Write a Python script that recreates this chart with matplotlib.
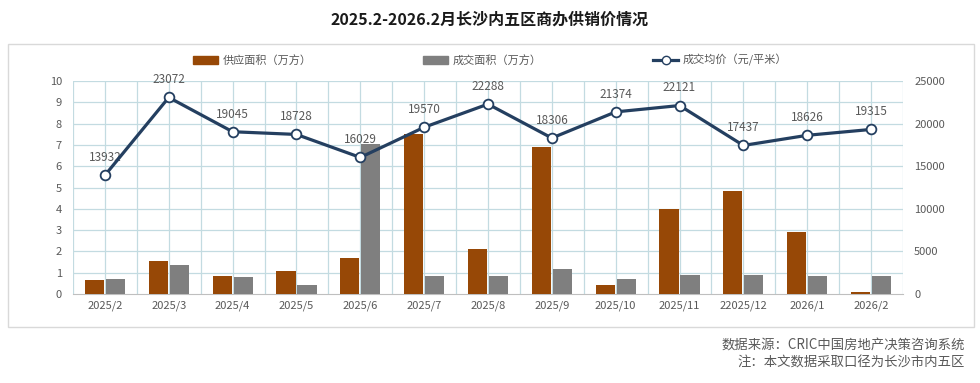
import matplotlib
matplotlib.use("Agg")
import matplotlib.pyplot as plt
import numpy as np
from matplotlib.patches import Rectangle
from matplotlib.lines import Line2D

plt.rcParams['font.family'] = ['Noto Sans CJK SC', 'DejaVu Sans']

categories = ["2025/2", "2025/3", "2025/4", "2025/5", "2025/6", "2025/7", "2025/8",
              "2025/9", "2025/10", "2025/11", "22025/12", "2026/1", "2026/2"]
supply = [0.65, 1.55, 0.85, 1.08, 1.69, 7.52, 2.11, 6.90, 0.42, 3.99, 4.84, 2.91, 0.09]
deal = [0.70, 1.36, 0.80, 0.42, 7.04, 0.85, 0.85, 1.17, 0.70, 0.90, 0.90, 0.85, 0.85]
price = [13932, 23072, 19045, 18728, 16029, 19570, 22288, 18306, 21374, 22121, 17437, 18626, 19315]

title = "2025.2-2026.2月长沙内五区商办供销价情况"
legend_labels = ["供应面积（万方）", "成交面积（万方）", "成交均价（元/平米）"]
notes = ["数据来源：CRIC中国房地产决策咨询系统", "注：本文数据采取口径为长沙市内五区"]

c_supply = "#974806"
c_deal = "#7f7f7f"
c_line = "#243f60"
c_grid = "#c3dbe1"
c_text = "#595959"

fig = plt.figure(figsize=(9.8, 3.83), dpi=100)
# outer border
fig.patches.append(Rectangle((8/980, 1-327/383), 966/980, 283/383, transform=fig.transFigure,
                             fill=False, edgecolor="#d9d9d9", linewidth=1.0))

ax = fig.add_axes([73/980, 1-294/383, 830/980, 213/383])
x = np.arange(len(categories))
w = 0.30
ax.bar(x - w/2 - 0.015, supply, width=w, color=c_supply, zorder=3)
ax.bar(x + w/2 + 0.015, deal, width=w, color=c_deal, zorder=3)
ax.set_xlim(-0.5, len(categories) - 0.5)
ax.set_ylim(0, 10)
ax.set_yticks(range(0, 11))
for v in np.arange(-0.5, len(categories), 0.5):
    ax.axvline(v, color=c_grid, linewidth=0.9, zorder=0)
for v in range(1, 11):
    ax.axhline(v, color=c_grid, linewidth=0.9, zorder=0)
for s in ["top", "right", "left"]:
    ax.spines[s].set_visible(False)
ax.spines["bottom"].set_color("#bfbfbf")
ax.set_xticks(x)
ax.set_xticklabels(categories, fontsize=8, color=c_text)
ax.tick_params(axis="both", length=0, labelsize=8, labelcolor=c_text)
ax.tick_params(axis="x", pad=5)
ax.tick_params(axis="y", pad=8)

ax2 = ax.twinx()
ax2.set_ylim(0, 25000)
ax2.set_yticks(range(0, 25001, 5000))
ax2.plot(x, price, color=c_line, linewidth=2.3, marker="o", markersize=7,
         markerfacecolor="white", markeredgecolor=c_line, markeredgewidth=1.3, zorder=5)
for xi, p in zip(x, price):
    ax2.annotate(f"{p}", (xi, p), xytext=(0, 8), textcoords="offset points",
                 ha="center", va="bottom", fontsize=8.5, color=c_text)
for s in ax2.spines.values():
    s.set_visible(False)
ax2.tick_params(axis="y", length=0, labelsize=8, labelcolor=c_text, pad=8)

fig.text(0.5, 1-20/383, title, ha="center", va="center", fontsize=11.5, fontweight="bold", color="#1a1a1a")

handles = [Rectangle((0, 0), 1, 1, color=c_supply),
           Rectangle((0, 0), 1, 1, color=c_deal),
           Line2D([0], [0], color=c_line, linewidth=2.3, marker="o", markersize=6,
                  markerfacecolor="white", markeredgecolor=c_line)]
fig.legend(handles, legend_labels, loc="center", bbox_to_anchor=(0.5, 1-60/383), ncol=3,
           frameon=False, fontsize=8, labelcolor=c_text, columnspacing=10, handlelength=2.3,
           handletextpad=0.4)

fig.text(965/980, 1-345/383, notes[0], ha="right", va="center", fontsize=9.6, color=c_text)
fig.text(965/980, 1-363/383, notes[1], ha="right", va="center", fontsize=9.6, color=c_text)

fig.savefig("out.png", dpi=100)
